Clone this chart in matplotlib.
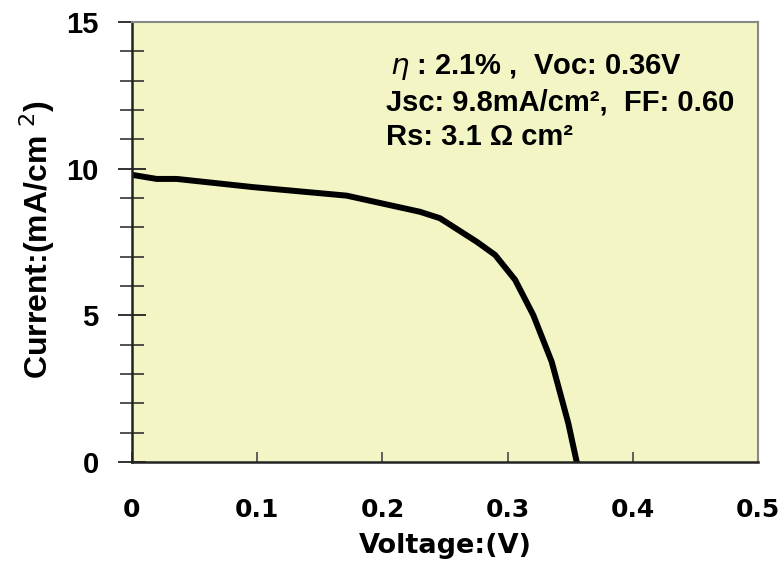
import numpy as np
import matplotlib
matplotlib.use("Agg")
import matplotlib.pyplot as plt
from matplotlib.ticker import MultipleLocator

# J-V curve
voltage = [0.0, 0.0197, 0.0357, 0.0969, 0.1715, 0.230, 0.246, 0.2753, 0.290,
           0.306, 0.3205, 0.3352, 0.3485, 0.3552]
current = [9.79, 9.65, 9.65, 9.37, 9.08, 8.53, 8.31, 7.51, 7.06,
           6.21, 5.01, 3.42, 1.32, 0.0]

x_ticks = [0, 0.1, 0.2, 0.3, 0.4, 0.5]
x_ticklabels = ['0', '0.1', '0.2', '0.3', '0.4', '0.5']
y_ticks = [0, 5, 10, 15]

info_lines = ['$\\eta$ : 2.1% ,  Voc: 0.36V',
              'Jsc: 9.8mA/cm²,  FF: 0.60',
              'Rs: 3.1 Ω cm²']

fig = plt.figure(figsize=(7.8, 5.67), dpi=100)
ax = fig.add_axes([0.1692, 0.1852, 0.8026, 0.776])
ax.set_facecolor('#F3F5C5')

ax.plot(voltage, current, color='black', linewidth=4.3, solid_joinstyle='round')

ax.set_xlim(0, 0.5)
ax.set_ylim(0, 15)
ax.set_xticks(x_ticks)
ax.set_xticklabels(x_ticklabels)
ax.set_yticks(y_ticks)
ax.yaxis.set_minor_locator(MultipleLocator(1))

sans = ['Liberation Sans', 'DejaVu Sans']
wide = ['DejaVu Sans']
for lab in ax.get_xticklabels():
    lab.set_fontfamily(wide)
    lab.set_fontweight('bold')
    lab.set_fontsize(18)
for lab in ax.get_yticklabels():
    lab.set_fontfamily(sans)
    lab.set_fontweight('bold')
    lab.set_fontsize(21)

ax.tick_params(axis='x', direction='in', length=7, width=1.3, color='#555555', pad=26)
ax.tick_params(axis='y', which='major', direction='inout', length=20, width=1.3,
               color='#222222', pad=14)
ax.tick_params(axis='y', which='minor', direction='inout', length=17, width=1.1,
               color='#222222')
ax.tick_params(top=False, right=False)

ax.spines['left'].set_color('#222222')
ax.spines['bottom'].set_color('#222222')
ax.spines['left'].set_linewidth(1.8)
ax.spines['bottom'].set_linewidth(1.8)
ax.spines['top'].set_color('#888888')
ax.spines['right'].set_color('#888888')
ax.spines['top'].set_linewidth(1.5)
ax.spines['right'].set_linewidth(1.5)

ax.set_xlabel('Voltage:(V)', labelpad=8, family=wide, weight='bold', size=19.5)
fig.text(0.047, 0.578, 'Current:(mA/cm $^2$)', rotation=90, ha='center', va='center',
         family=sans, weight='bold', size=23)

for i, line in enumerate(info_lines):
    ax.text(0.412 if i == 0 else 0.406, 0.898 - i * 0.08, line,
            transform=ax.transAxes, ha='left', va='center',
            family=sans, weight='bold', size=21)

fig.savefig('out.png', dpi=100)
